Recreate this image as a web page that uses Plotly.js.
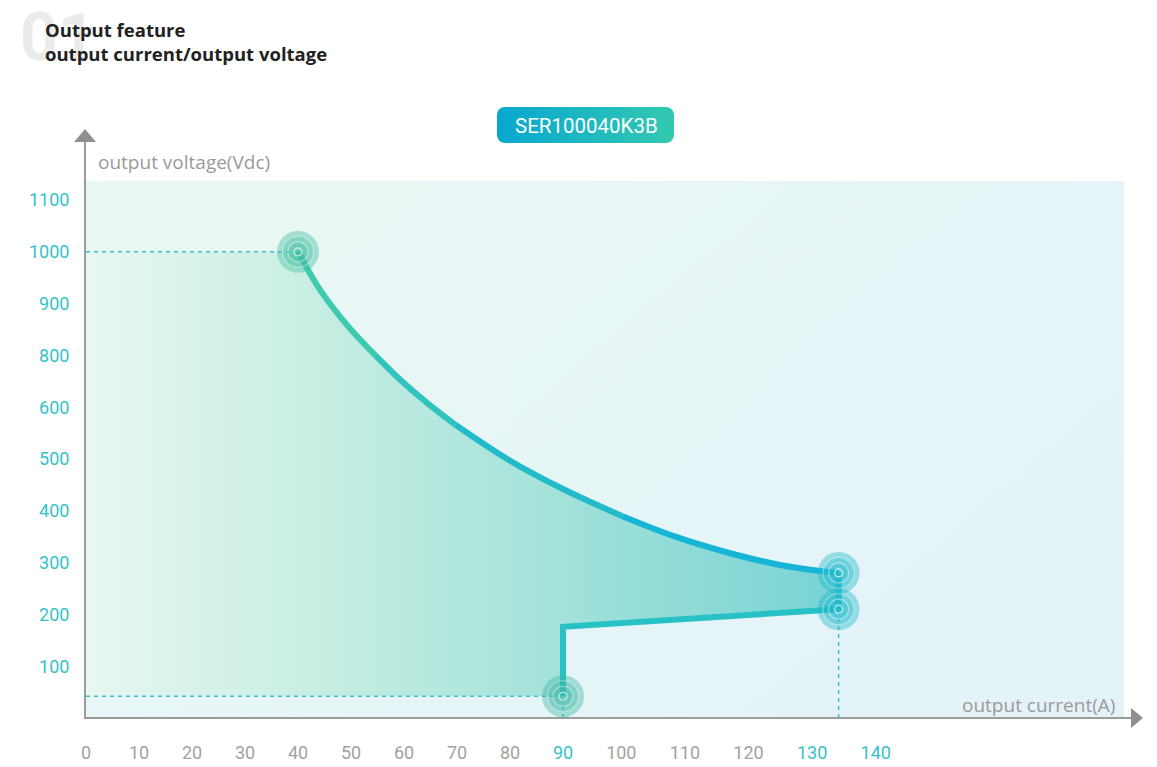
<!DOCTYPE html>
<html>
<head>
<meta charset="utf-8">
<script src="https://cdn.plot.ly/plotly-3.0.1.min.js"></script>
<style>html,body{margin:0;padding:0;background:#fff;}#chart{width:1157px;height:767px;}</style>
</head>
<body>
<div id="chart"></div>
<script>
// ---- data (axis units as drawn on the picture's own scales) ----
// upper constant-power curve: output current vs output voltage position
const curveI = [40, 44.2, 49.3, 54.6, 59.5, 65.0, 69.7, 79.8, 90.0, 101.1, 111.2, 121.2, 131.2, 142];
const curveV = [900, 826, 758, 700, 651, 603, 566, 498, 442, 390, 350, 319, 295, 280];
// lower boundary line
const lowerI = [90, 90, 142];
const lowerV = [42, 176, 210];
// key points with ring markers
const keyI = [40, 142, 142, 90];
const keyV = [900, 280, 210, 42];
// tick values / labels (the source chart skips 700 on the voltage axis)
const xTickVals = [0, 10, 20, 30, 40, 50, 60, 70, 80, 90, 101, 113, 125, 137, 149];
const xTickText = ['0','10','20','30','40','50','60','70','80','90','100','110','120','130','140'];
const xHighlight = ['90', '130', '140'];
const yTickVals = [100, 200, 300, 400, 500, 600, 700, 800, 900, 1000];
const yTickText = ['100','200','300','400','500','600','800','900','1000','1100'];

// ---- geometry helpers (layout only) ----
const L = 86, R = 33, T = 181, B = 49, W = 1157, H = 767;
const PW = W - L - R, PH = H - T - B;
const pxX = px => (px - L) / PW;
const pxY = py => (H - B - py) / PH;
const xPerUnit = 5.3, yPerUnit = 0.518;

const teal = '#36c2c8';
const traces = [];

// filled operating area
const fillX = [0, 0].concat(curveI, lowerI.slice().reverse());
const fillY = [lowerV[0], curveV[0]].concat(curveV, lowerV.slice().reverse());
traces.push({
  x: fillX, y: fillY, mode: 'lines', fill: 'toself', line: {width: 0},
  fillcolor: '#a5e2d9',
  fillgradient: {type: 'horizontal', colorscale: [
    [0, 'rgba(232,247,243,1)'], [0.3, 'rgba(200,238,227,1)'], [0.65, 'rgba(160,225,217,1)'], [1, 'rgba(120,211,212,1)']
  ]},
  hoverinfo: 'skip', showlegend: false
});

// dashed guides
const guideStyle = {color: teal, width: 1.5, dash: '4px,4px'};
const guides = [
  {x: [0, keyI[0]], y: [keyV[0], keyV[0]]},
  {x: [0, keyI[3]], y: [keyV[3], keyV[3]]},
  {x: [keyI[3], keyI[3]], y: [0, keyV[3]]},
  {x: [keyI[2], keyI[2]], y: [0, keyV[2]]}
];
guides.forEach(g => traces.push({x: g.x, y: g.y, mode: 'lines', line: guideStyle, hoverinfo: 'skip', showlegend: false}));

// curve drawn as smooth spline pieces with colour shifting green -> blue
const c0 = [62, 202, 176], c1 = [22, 180, 214];
const pieces = [[0, 3], [3, 6], [6, 9], [9, 13]];
pieces.forEach((p, j) => {
  const t = j / (pieces.length - 1);
  const c = c0.map((v, k) => Math.round(v + (c1[k] - v) * t));
  traces.push({x: curveI.slice(p[0], p[1] + 1), y: curveV.slice(p[0], p[1] + 1), mode: 'lines',
    line: {color: `rgb(${c.join(',')})`, width: 6, shape: 'spline', smoothing: 1}, hoverinfo: 'skip', showlegend: false});
});
// right vertical + lower line
traces.push({x: [curveI[curveI.length - 1]].concat(lowerI.slice().reverse()),
  y: [curveV[curveV.length - 1]].concat(lowerV.slice().reverse()),
  mode: 'lines', line: {color: '#28c2c6', width: 6}, hoverinfo: 'skip', showlegend: false});

// ring markers
const keyRGB = ['64,190,160', '34,186,206', '34,186,206', '64,186,164'];
const rings = [
  {size: 42, a: 0.42, la: 0.0},
  {size: 31, a: 0.30, la: 0.35},
  {size: 20, a: 0.35, la: 0.45},
  {size: 8, a: 0.0, la: 0.7}
];
rings.forEach(r => traces.push({
  x: keyI, y: keyV, mode: 'markers', hoverinfo: 'skip', showlegend: false, cliponaxis: false,
  marker: {size: r.size, color: keyRGB.map(c => `rgba(${c},${r.a})`),
    line: {width: 1.2, color: `rgba(255,255,255,${r.la})`}}
}));

const badgeSvg = "<svg xmlns='http://www.w3.org/2000/svg' width='177' height='36'><defs><linearGradient id='g' x1='0' x2='1' y1='0' y2='0'><stop offset='0' stop-color='#08a7d0'/><stop offset='1' stop-color='#33c9b0'/></linearGradient></defs><rect width='177' height='36' rx='8' ry='8' fill='url(#g)'/></svg>";
const bgSvg = "<svg xmlns='http://www.w3.org/2000/svg' width='1038' height='537'><defs><linearGradient id='b' x1='0' x2='1' y1='0' y2='0.6'><stop offset='0' stop-color='#eaf8f4'/><stop offset='1' stop-color='#e4f3f8'/></linearGradient></defs><rect width='1038' height='537' fill='url(#b)'/></svg>";

const layout = {
  width: W, height: H,
  margin: {l: L, r: R, t: T, b: B},
  paper_bgcolor: '#ffffff', plot_bgcolor: '#e7f6f5',
  font: {family: 'Roboto, sans-serif'},
  xaxis: {
    range: [0, PW / xPerUnit], showgrid: false, zeroline: false, showline: false,
    tickmode: 'array', tickvals: xTickVals,
    ticktext: xTickText.map(t => xHighlight.includes(t) ? `<span style="color:${teal}">${t}</span>` : t),
    ticks: 'outside', ticklen: 18, tickcolor: 'rgba(0,0,0,0)',
    tickfont: {family: 'Roboto, sans-serif', size: 18, color: '#a2a2a2'}, fixedrange: true
  },
  yaxis: {
    range: [0, PH / yPerUnit], showgrid: false, zeroline: false, showline: false,
    tickmode: 'array', tickvals: yTickVals, ticktext: yTickText,
    ticks: 'outside', ticklen: 12, tickcolor: 'rgba(0,0,0,0)',
    tickfont: {family: 'Roboto, sans-serif', size: 18, color: teal}, fixedrange: true
  },
  shapes: [
    {type: 'line', xref: 'paper', yref: 'paper', x0: pxX(84), x1: pxX(1134), y0: 0, y1: 0, line: {color: '#9c9c9c', width: 2}},
    {type: 'line', xref: 'paper', yref: 'paper', x0: pxX(85), x1: pxX(85), y0: 0, y1: pxY(141), line: {color: '#9c9c9c', width: 2}},
    {type: 'path', xref: 'paper', yref: 'paper', fillcolor: '#8f8f8f', line: {width: 0},
      path: `M ${pxX(1131)} ${pxY(708)} L ${pxX(1143)} ${pxY(718)} L ${pxX(1131)} ${pxY(728)} Z`},
    {type: 'path', xref: 'paper', yref: 'paper', fillcolor: '#8f8f8f', line: {width: 0},
      path: `M ${pxX(74)} ${pxY(142)} L ${pxX(85)} ${pxY(129)} L ${pxX(96)} ${pxY(142)} Z`}
  ],
  images: [
    {source: 'data:image/svg+xml;base64,' + btoa(bgSvg),
      xref: 'paper', yref: 'paper', x: 0, y: 1, sizex: 1, sizey: 1,
      xanchor: 'left', yanchor: 'top', sizing: 'stretch', layer: 'below'},
    {source: 'data:image/svg+xml;base64,' + btoa(badgeSvg),
      xref: 'paper', yref: 'paper', x: pxX(497), y: pxY(107), sizex: 177 / PW, sizey: 36 / PH,
      xanchor: 'left', yanchor: 'top', sizing: 'stretch', layer: 'above'}
  ],
  annotations: [
    {xref: 'paper', yref: 'paper', x: pxX(18), y: pxY(37), xanchor: 'left', yanchor: 'middle', showarrow: false,
      text: '<b>01</b>', font: {family: 'Roboto, sans-serif', size: 66, color: '#ebebeb'}},
    {xref: 'paper', yref: 'paper', x: pxX(43), y: pxY(29), xanchor: 'left', yanchor: 'middle', showarrow: false,
      text: '<b>Output feature</b>', font: {family: '"Open Sans", sans-serif', size: 18.5, color: '#222222'}},
    {xref: 'paper', yref: 'paper', x: pxX(43), y: pxY(54), xanchor: 'left', yanchor: 'middle', showarrow: false,
      text: '<b>output current/output voltage</b>', font: {family: '"Open Sans", sans-serif', size: 18.5, color: '#222222'}},
    {xref: 'paper', yref: 'paper', x: pxX(586), y: pxY(126), xanchor: 'center', yanchor: 'middle', showarrow: false,
      text: 'SER100040K3B', font: {family: 'Roboto, sans-serif', size: 20.5, color: '#ffffff'}},
    {xref: 'paper', yref: 'paper', x: pxX(96), y: pxY(162), xanchor: 'left', yanchor: 'middle', showarrow: false,
      text: 'output voltage(Vdc)', font: {family: '"Open Sans", sans-serif', size: 19, color: '#9a9a9a'}},
    {xref: 'paper', yref: 'paper', x: pxX(1117), y: pxY(705), xanchor: 'right', yanchor: 'middle', showarrow: false,
      text: 'output current(A)', font: {family: '"Open Sans", sans-serif', size: 19, color: '#9a9a9a'}}
  ],
  showlegend: false
};

Plotly.newPlot('chart', traces, layout, {staticPlot: true, displayModeBar: false});
</script>
</body>
</html>
